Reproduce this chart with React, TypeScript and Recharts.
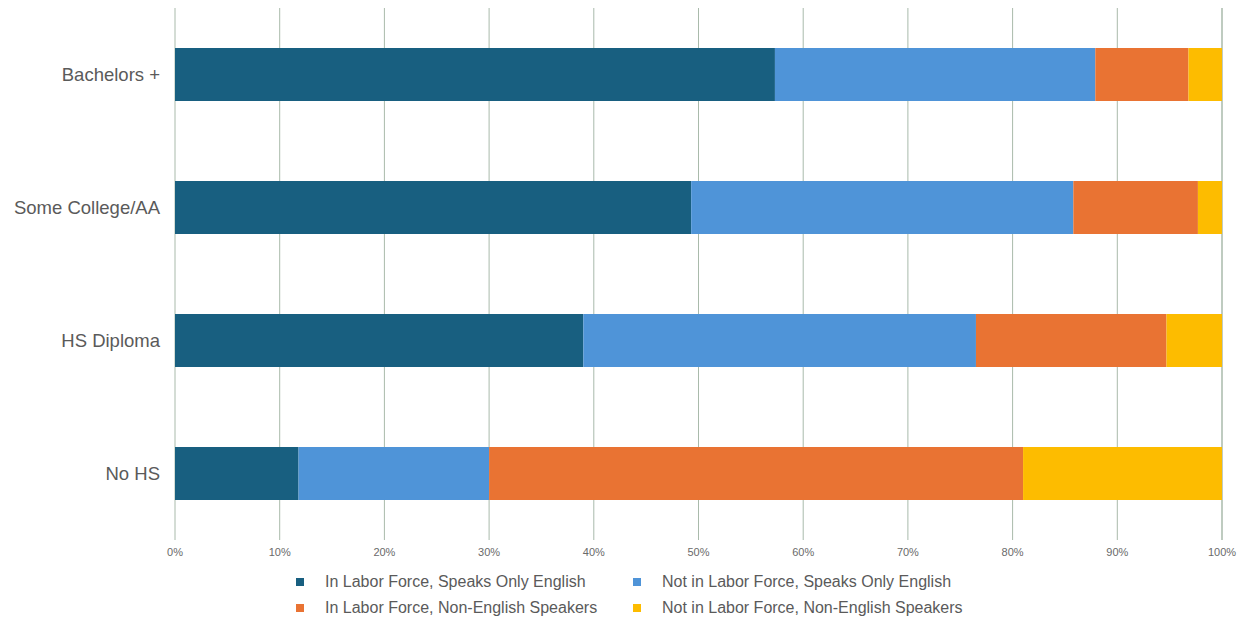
import { BarChart, Bar, XAxis, YAxis, CartesianGrid } from 'recharts'

const categorias = ['Bachelors +', 'Some College/AA', 'HS Diploma', 'No HS']
const laborEnglish = [57.3, 49.3, 39.0, 11.8]
const notLaborEnglish = [30.6, 36.5, 37.5, 18.2]
const laborNonEnglish = [8.9, 11.9, 18.2, 51.0]
const notLaborNonEnglish = [3.2, 2.3, 5.3, 19.0]
const ticksX = [0, 10, 20, 30, 40, 50, 60, 70, 80, 90, 100]

const series = [
  { key: 'laborEnglish', name: 'In Labor Force, Speaks Only English', color: '#185f80' },
  { key: 'notLaborEnglish', name: 'Not in Labor Force, Speaks Only English', color: '#4f94d8' },
  { key: 'laborNonEnglish', name: 'In Labor Force, Non-English Speakers', color: '#e97333' },
  { key: 'notLaborNonEnglish', name: 'Not in Labor Force, Non-English Speakers', color: '#fdbc00' }
]

const datos = categorias.map((cat, i) => ({
  cat,
  laborEnglish: laborEnglish[i],
  notLaborEnglish: notLaborEnglish[i],
  laborNonEnglish: laborNonEnglish[i],
  notLaborNonEnglish: notLaborNonEnglish[i]
}))

const fuente = 'Liberation Sans, Arial, sans-serif'

// leyenda en html, fuera del svg para no achicar el area del grafico
function Leyenda() {
  const item = (s: (typeof series)[number]) => (
    <div key={s.key} style={{ display: 'flex', alignItems: 'center', height: 26 }}>
      <span style={{ width: 8, height: 8, background: s.color, display: 'inline-block', marginRight: 21 }} />
      <span>{s.name}</span>
    </div>
  )
  return (
    <div
      style={{
        position: 'absolute',
        left: 296,
        top: 569,
        display: 'grid',
        gridTemplateColumns: '337px 340px',
        fontFamily: fuente,
        fontSize: 16,
        color: '#5a5a5a',
        lineHeight: 1
      }}
    >
      {series.map(item)}
    </div>
  )
}

export default function App() {
  return (
    <div style={{ position: 'absolute', left: 0, top: 0, width: 1246, height: 620 }}>
      <BarChart
        width={1246}
        height={620}
        data={datos}
        layout="vertical"
        barSize={53}
        margin={{ top: 8, right: 24, left: 10, bottom: 50 }}
      >
        <CartesianGrid horizontal={false} stroke="#a9baab" strokeWidth={1} />
        <XAxis
          type="number"
          domain={[0, 100]}
          ticks={ticksX}
          tickFormatter={(v: number) => `${v}%`}
          tick={{ fontSize: 11, fill: '#6a6a6a', fontFamily: fuente }}
          axisLine={false}
          tickLine={false}
          interval={0}
          height={30}
          tickMargin={2}
        />
        <YAxis
          type="category"
          dataKey="cat"
          width={165}
          tick={{ fontSize: 18.5, fill: '#5a5a5a', fontFamily: fuente }}
          axisLine={false}
          tickLine={false}
          tickMargin={9}
        />
        {series.map((s) => (
          <Bar key={s.key} dataKey={s.key} name={s.name} stackId="a" fill={s.color} isAnimationActive={false} />
        ))}
      </BarChart>
      <Leyenda />
    </div>
  )
}
